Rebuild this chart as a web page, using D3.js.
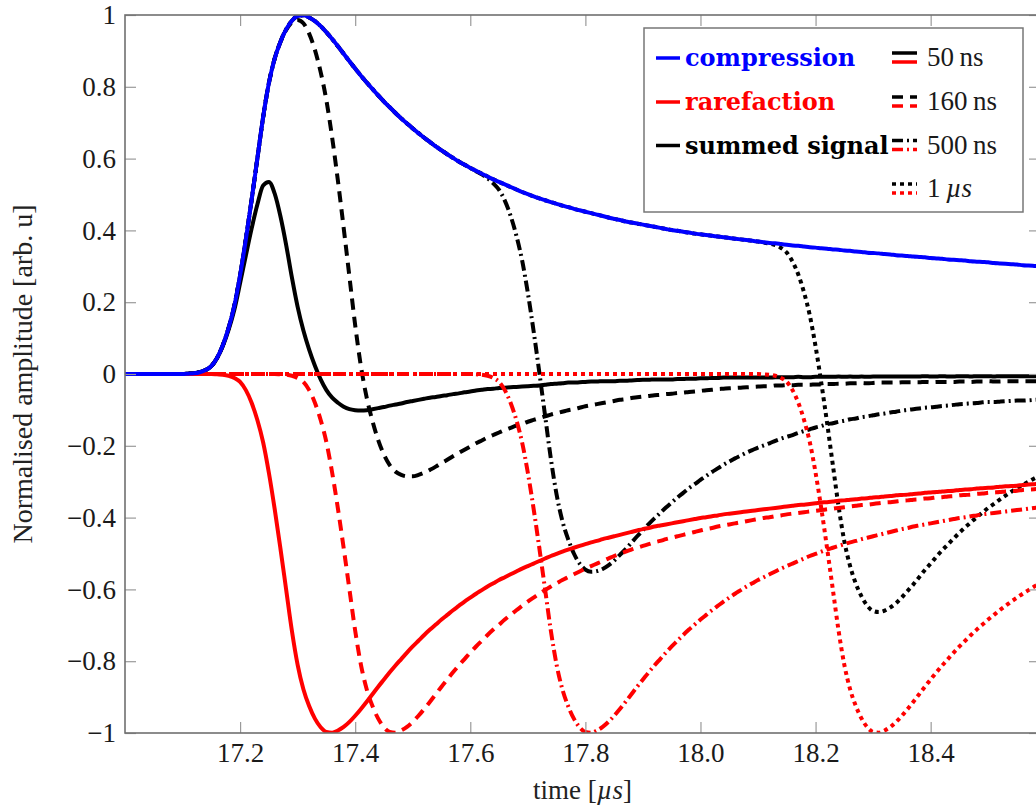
<!DOCTYPE html>
<html><head><meta charset="utf-8">
<script src="https://cdn.jsdelivr.net/npm/d3@7"></script>
<style>body{margin:0;background:#fff} svg{display:block}</style>
</head><body>
<svg id="chart" width="1036" height="807"></svg>
<script>
// ---- data ----
const tStart = 17.0, tStep = 0.01;   // sample grid of the compression pulse [µs]
const compression = [
  0,0,0,0,0,0,0,0,0,0,
  0,0.001,0.002,0.005,0.011,0.022,0.045,0.080,0.128,0.190,
  0.275,0.375,0.485,0.600,0.715,0.810,0.878,0.925,0.960,0.984,
  0.997,0.999,0.993,0.983,0.969,0.952,0.933,0.913,0.892,0.871,
  0.851,0.831,0.812,0.794,0.776,0.759,0.743,0.727,0.712,0.698,
  0.684,0.671,0.658,0.646,0.634,0.623,0.612,0.602,0.592,0.583,
  0.574,0.566,0.558,0.550,0.542,0.535,0.528,0.521,0.514,0.507,
  0.501,0.495,0.489,0.484,0.479,0.474,0.469,0.465,0.460,0.456,
  0.452,0.448,0.444,0.440,0.436,0.432,0.429,0.425,0.422,0.419,
  0.416,0.413,0.410,0.407,0.404,0.401,0.399,0.396,0.394,0.391,
  0.389,0.387,0.385,0.383,0.381,0.379,0.377,0.375,0.373,0.371,
  0.369,0.367,0.365,0.364,0.362,0.360,0.358,0.357,0.355,0.353,
  0.352,0.350,0.349,0.347,0.346,0.344,0.343,0.341,0.340,0.338,
  0.337,0.336,0.334,0.333,0.331,0.330,0.329,0.327,0.326,0.325,
  0.323,0.322,0.321,0.319,0.318,0.317,0.316,0.314,0.313,0.312,
  0.311,0.309,0.308,0.307,0.306,0.305,0.303,0.302,0.301,0.300
];
const delays = [0.05, 0.16, 0.5, 1.0];             // rarefaction delay [µs]
const delayLabels = ["50\u2009ns", "160\u2009ns", "500\u2009ns", "1\u2009"];
const seriesNames = ["compression", "rarefaction", "summed signal"];
const xTicks = [17.2, 17.4, 17.6, 17.8, 18.0, 18.2, 18.4];
const xTickLabels = ["17.2", "17.4", "17.6", "17.8", "18.0", "18.2", "18.4"];
const yTicks = [-1, -0.8, -0.6, -0.4, -0.2, 0, 0.2, 0.4, 0.6, 0.8, 1];
const yTickLabels = ["\u22121", "\u22120.8", "\u22120.6", "\u22120.4", "\u22120.2", "0", "0.2", "0.4", "0.6", "0.8", "1"];

// ---- derived series (rarefaction = delayed inverted compression, sum) ----
const times = compression.map((_, i) => tStart + i * tStep);
const valAt = i => (i >= 0 ? compression[i] : 0);
const rarefactions = delays.map(d => {
  const k = Math.round(d / tStep);
  return compression.map((_, i) => -valAt(i - k));
});
const sums = rarefactions.map(r => r.map((v, i) => compression[i] + v));

// ---- styles ----
const dashes = [null, "11,7", "11,4,2,4", "4,4"];
const BLUE = "#0000ff", RED = "#ff0000", BLACK = "#000000";
const LW = 4;
const serif = "'Liberation Serif', 'Times New Roman', serif";

// ---- layout ----
const svg = d3.select("#chart");
const L = 125, R = 1040, T = 15, B = 733;
const x = d3.scaleLinear().domain([17.0, 18.59]).range([L, R]);
const y = d3.scaleLinear().domain([-1, 1]).range([B, T]);

svg.append("defs").append("clipPath").attr("id", "clip")
  .append("rect").attr("x", L).attr("y", T).attr("width", R - L).attr("height", B - T);

const line = d3.line().x((d, i) => x(times[i])).y(d => y(d)).curve(d3.curveMonotoneX);
const plot = svg.append("g").attr("clip-path", "url(#clip)");

function drawSeries(values, color, dash) {
  plot.append("path").datum(values)
    .attr("d", line).attr("fill", "none")
    .attr("stroke", color).attr("stroke-width", LW)
    .attr("stroke-linejoin", "round").attr("stroke-linecap", "butt")
    .attr("stroke-dasharray", dash);
}
sums.forEach((s, j) => drawSeries(s, BLACK, dashes[j]));
rarefactions.forEach((r, j) => drawSeries(r, RED, dashes[j]));
drawSeries(compression, BLUE, null);

// ---- axes ----
const tickLen = 11;
function styleAxis(g) {
  g.select(".domain").remove();
  g.selectAll(".tick line").attr("stroke", "#9a9a9a").attr("stroke-width", 1.2);
  g.selectAll(".tick text").attr("font-family", serif).attr("font-size", 27).attr("fill", "#1a1a1a");
}
svg.append("g").attr("transform", `translate(0,${B})`)
  .call(d3.axisBottom(x).tickValues(xTicks).tickFormat((d, i) => xTickLabels[i])
    .tickSizeInner(-tickLen).tickSizeOuter(0).tickPadding(10)).call(styleAxis);
svg.append("g").attr("transform", `translate(0,${T})`)
  .call(d3.axisTop(x).tickValues(xTicks).tickFormat("")
    .tickSizeInner(-tickLen).tickSizeOuter(0)).call(styleAxis);
svg.append("g").attr("transform", `translate(${L},0)`)
  .call(d3.axisLeft(y).tickValues(yTicks).tickFormat((d, i) => yTickLabels[i])
    .tickSizeInner(-tickLen).tickSizeOuter(0).tickPadding(9)).call(styleAxis);
svg.append("g").attr("transform", `translate(${R},0)`)
  .call(d3.axisRight(y).tickValues(yTicks).tickFormat("")
    .tickSizeInner(-tickLen).tickSizeOuter(0)).call(styleAxis);

// frame
svg.append("rect").attr("x", L).attr("y", T).attr("width", R - L).attr("height", B - T)
  .attr("fill", "none").attr("stroke", "#707070").attr("stroke-width", 1.6);

// axis titles
const xt = svg.append("text").attr("x", (L + R) / 2).attr("y", 799)
  .attr("text-anchor", "middle").attr("font-family", serif).attr("font-size", 27).attr("fill", "#222");
xt.append("tspan").text("time [");
xt.append("tspan").attr("font-style", "italic").text("\u00b5s");
xt.append("tspan").text("]");

svg.append("text").attr("transform", `translate(32,${(T + B) / 2}) rotate(-90)`)
  .attr("text-anchor", "middle").attr("font-family", serif).attr("font-size", 28).attr("fill", "#222")
  .text("Normalised amplitude [arb. u]");

// ---- legend ----
const lg = svg.append("g");
lg.append("rect").attr("x", 644).attr("y", 28).attr("width", 379).attr("height", 184)
  .attr("fill", "#fff").attr("stroke", "#777").attr("stroke-width", 1.5);
const rowBase = [66, 110, 153.5, 197];
const nameColors = [BLUE, RED, BLACK];
seriesNames.forEach((n, i) => {
  lg.append("line").attr("x1", 656).attr("x2", 680).attr("y1", rowBase[i] - 8).attr("y2", rowBase[i] - 8)
    .attr("stroke", nameColors[i]).attr("stroke-width", 3.5);
  lg.append("text").attr("x", 685).attr("y", rowBase[i])
    .attr("font-family", "'DejaVu Serif', serif").attr("font-weight", "bold").attr("font-size", 24)
    .attr("fill", nameColors[i]).text(n);
});
delayLabels.forEach((lab, i) => {
  [[BLACK, -13], [RED, -4]].forEach(([c, off]) => {
    lg.append("line").attr("x1", 892).attr("x2", 917)
      .attr("y1", rowBase[i] + off).attr("y2", rowBase[i] + off)
      .attr("stroke", c).attr("stroke-width", 3.5).attr("stroke-dasharray", dashes[i]);
  });
  const t = lg.append("text").attr("x", 927).attr("y", rowBase[i])
    .attr("font-family", serif).attr("font-size", 27).attr("fill", "#1a1a1a");
  t.append("tspan").text(lab);
  if (i === 3) t.append("tspan").attr("font-style", "italic").text("\u00b5s");
});
</script>
</body></html>
